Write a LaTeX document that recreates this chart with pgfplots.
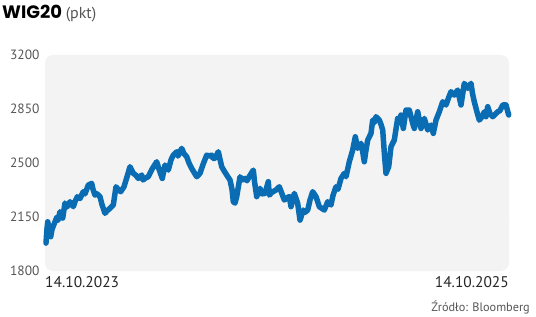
\documentclass[border=0pt]{standalone}
\usepackage{pgfplots}
\pgfplotsset{compat=1.18}
\usepackage{fontspec}
\setmainfont{PT Sans}
\newfontfamily\titlefont{Poppins}
\definecolor{linecol}{HTML}{0A6DB3}
\definecolor{bgcol}{HTML}{F3F3F3}
\definecolor{tickcol}{HTML}{555555}
\definecolor{gridcol}{HTML}{BBBBBB}
\begin{document}
\begin{tikzpicture}
\useasboundingbox (0,0) rectangle (536bp,317bp);
\begin{axis}[
  at={(45bp,46bp)}, anchor=south west,
  scale only axis, width=464bp, height=216bp,
  xmin=45, xmax=509, ymin=1800, ymax=3200,
  axis line style={draw=none},
  xtick=\empty,
  ytick={1800,2150,2500,2850,3200},
  yticklabel style={font=\fontsize{13.5}{13.5}\selectfont, text=tickcol, xshift=-2bp},
  major tick length=0pt,
  /pgf/number format/assume math mode=true,
  /pgf/number format/1000 sep={},
  extra y ticks={2150,2500,2850},
  extra y tick labels={},
  extra y tick style={grid=major, major grid style={gridcol, dash pattern=on 3bp off 5bp, line width=0.7bp}},
  clip=false,
]
\fill[bgcol, rounded corners=8bp] (axis description cs:0,0) rectangle (axis description cs:1,1);
\addplot[linecol, line width=5.5bp, line join=round, line cap=round] coordinates {
(46,1981) (46.8,2060) (47.7,2119) (49,2080) (50.7,2022) (52,2070) (55,2119) (57,2150) (58,2130) (60,2184) (62.7,2143) (65,2240) (67,2215) (70,2249) (73.3,2217) (75,2250) (77.3,2281) (80,2270) (83.3,2314) (85,2300) (88.3,2357) (91.7,2368) (93,2330) (95,2292) (97,2300) (100,2282) (102,2230) (105,2174) (107,2190) (110,2206) (113.3,2228) (116,2346) (118,2330) (120.7,2314) (124,2346) (127,2410) (130,2476) (133.3,2433) (136,2420) (138.3,2400) (141.7,2422) (143,2390) (145,2400) (148.3,2411) (152,2460) (156.7,2508) (159,2460) (162.3,2400) (165,2487) (168.3,2454) (171,2520) (173.3,2551) (176.7,2573) (178,2545) (181.7,2595) (184,2560) (186.7,2541) (189,2500) (191.7,2465) (194,2440) (196.7,2411) (200,2433) (203,2490) (206.7,2551) (209,2545) (211.7,2551) (213,2530) (215,2530) (218.3,2573) (221.7,2476) (224,2450) (226.7,2422) (230,2390) (232,2330) (233.3,2249) (235,2240) (236.7,2282) (240,2411) (242,2390) (245,2400) (247,2385) (250,2420) (253.3,2454) (254.5,2380) (256.7,2282) (260,2336) (262,2300) (265,2303) (268.3,2379) (269.3,2292) (272,2310) (276,2325) (279.3,2346) (282,2300) (284.3,2260) (287,2275) (289.3,2282) (291,2217) (294.3,2303) (297.7,2238) (300,2130) (303.3,2195) (305,2180) (307.7,2195) (310,2260) (312.7,2314) (316,2282) (319.3,2217) (322,2205) (324.3,2195) (327.7,2249) (331,2228) (333,2290) (336,2346) (338,2330) (341,2400) (344.3,2433) (346,2411) (349.3,2508) (352.7,2584) (355.3,2670) (357.7,2595) (361,2627) (362.5,2580) (364.3,2508) (366,2584) (367.7,2649) (371,2692) (372.7,2778) (374,2760) (376,2800) (379.3,2778) (381,2750) (382.7,2714) (384.5,2550) (386,2433) (388.7,2476) (391,2606) (394.3,2649) (396,2720) (397.7,2789) (399,2760) (401,2811) (403.3,2724) (406,2843) (409.3,2843) (412.7,2757) (414.3,2724) (417.7,2832) (421,2724) (424.3,2789) (427.7,2714) (431,2746) (433.3,2692) (436,2778) (439.3,2832) (442.7,2897) (446,2876) (449,2930) (451,2962) (454.3,2940) (457.7,2973) (461,2876) (464.3,3016) (467.7,2984) (471,3016) (472.5,2950) (474.3,2897) (477,2830) (479.3,2778) (482,2800) (484.3,2832) (486,2800) (487.7,2865) (490,2820) (492.7,2800) (495,2815) (497.7,2832) (500,2840) (502.7,2876) (506,2876) (508.7,2811)
};
\node[anchor=north west, inner sep=0pt, font=\fontsize{15.5}{15.5}\selectfont, text=black!85] at (axis description cs:0,0) [yshift=-5bp] {14.10.2023};
\node[anchor=north east, inner sep=0pt, font=\fontsize{15.5}{15.5}\selectfont, text=black!85] at (axis description cs:1,0) [yshift=-5bp] {14.10.2025};
\end{axis}
\node[anchor=base west, inner sep=0pt] at (2bp,298bp) {\titlefont\fontsize{18}{18}\selectfont\bfseries WIG20\ \mdseries\rmfamily\fontsize{16}{16}\selectfont\textcolor{tickcol}{(pkt)}};
\node[anchor=east, inner sep=0pt, font=\fontsize{12.3}{12.3}\selectfont, text=tickcol] at (530bp,10bp) {Źródło: Bloomberg};
\end{tikzpicture}
\end{document}
